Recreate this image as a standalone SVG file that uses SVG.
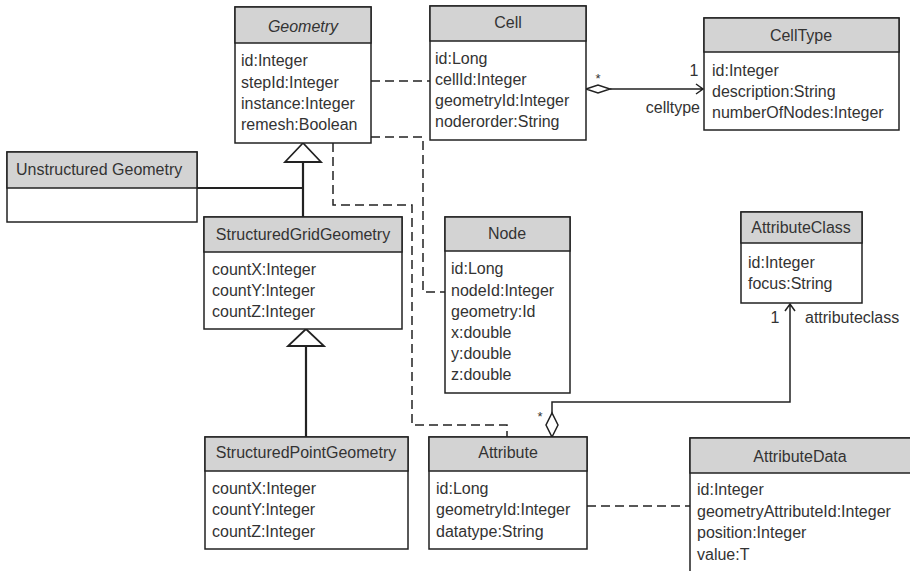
<svg xmlns="http://www.w3.org/2000/svg" width="910" height="571" viewBox="0 0 910 571">
<style>
.box{fill:#fff;stroke:#222;stroke-width:1.5}
.hdr{fill:#d3d3d3;stroke:#222;stroke-width:1.5}
text{font-family:"Liberation Sans",Arial,sans-serif;font-size:16px;fill:#333}
.t{text-anchor:middle}
.ln{fill:none;stroke:#222;stroke-width:1.5}
.dash{fill:none;stroke:#222;stroke-width:1.5;stroke-dasharray:9 5}
.gen{fill:none;stroke:#222;stroke-width:2.2}
.tri{fill:#fff;stroke:#222;stroke-width:1.8}
</style>
<rect width="910" height="571" fill="#fff"/>
<g id="connectors">
<path class="dash" d="M371,81 H430"/>
<path class="dash" d="M371,137 H423 V292 H445"/>
<path class="dash" d="M333,143 V205 H412 V425 H507 V437"/>
<path class="dash" d="M587,506 H690"/>
<path class="gen" d="M303,162 V217 M197,188 H303"/>
<polygon class="tri" points="303,143 285,162 321,162"/>
<path class="gen" d="M306,346 V437"/>
<polygon class="tri" points="306,329 288,346 324,346"/>
<path class="ln" d="M610,89 H703 M696,84 L703,89 L696,94"/>
<polygon class="ln" points="586,89 598,85 610,89 598,93"/>
<path class="ln" d="M552,413 V402 H790 V304 M785,311 L790,304 L795,311"/>
<polygon class="ln" points="552,437 558,425 552,413 546,425"/>
<text x="598" y="83" class="t" style="font-size:13px">*</text>
<text x="694" y="76" class="t">1</text>
<text x="700" y="113" text-anchor="end">celltype</text>
<text x="775" y="323" class="t">1</text>
<text x="805" y="323">attributeclass</text>
<text x="540" y="421" class="t" style="font-size:13px">*</text>
</g>
<g id="Geometry">
<rect class="box" x="235" y="7" width="136" height="136"/>
<rect class="hdr" x="235" y="7" width="136" height="36"/>
<text x="303" y="32" class="t" font-style="italic">Geometry</text>
<text x="241" y="66">id:Integer</text>
<text x="241" y="88">stepId:Integer</text>
<text x="241" y="109">instance:Integer</text>
<text x="241" y="130">remesh:Boolean</text>
</g>
<g id="Cell">
<rect class="box" x="430" y="6" width="156" height="134"/>
<rect class="hdr" x="430" y="6" width="156" height="35"/>
<text x="508" y="28" class="t">Cell</text>
<text x="435" y="64">id:Long</text>
<text x="435" y="85">cellId:Integer</text>
<text x="435" y="106">geometryId:Integer</text>
<text x="435" y="127">noderorder:String</text>
</g>
<g id="CellType">
<rect class="box" x="704" y="18" width="195" height="112"/>
<rect class="hdr" x="704" y="18" width="195" height="34"/>
<text x="801" y="41" class="t">CellType</text>
<text x="712" y="76">id:Integer</text>
<text x="712" y="97">description:String</text>
<text x="712" y="118">numberOfNodes:Integer</text>
</g>
<g id="UnstructuredGeometry">
<rect class="box" x="7" y="152" width="190" height="70"/>
<rect class="hdr" x="7" y="152" width="190" height="36"/>
<text x="16" y="175">Unstructured Geometry</text>
</g>
<g id="StructuredGridGeometry">
<rect class="box" x="204" y="217" width="198" height="112"/>
<rect class="hdr" x="204" y="217" width="198" height="35"/>
<text x="303" y="240" class="t">StructuredGridGeometry</text>
<text x="212" y="275">countX:Integer</text>
<text x="212" y="296">countY:Integer</text>
<text x="212" y="317">countZ:Integer</text>
</g>
<g id="Node">
<rect class="box" x="445" y="217" width="125" height="176"/>
<rect class="hdr" x="445" y="217" width="125" height="34"/>
<text x="507" y="239" class="t">Node</text>
<text x="451" y="274">id:Long</text>
<text x="451" y="296">nodeId:Integer</text>
<text x="451" y="317">geometry:Id</text>
<text x="451" y="338">x:double</text>
<text x="451" y="359">y:double</text>
<text x="451" y="380">z:double</text>
</g>
<g id="AttributeClass">
<rect class="box" x="741" y="212" width="121" height="91"/>
<rect class="hdr" x="741" y="212" width="121" height="31"/>
<text x="801" y="233" class="t">AttributeClass</text>
<text x="748" y="268">id:Integer</text>
<text x="748" y="289">focus:String</text>
</g>
<g id="StructuredPointGeometry">
<rect class="box" x="205" y="437" width="203" height="112"/>
<rect class="hdr" x="205" y="437" width="203" height="34"/>
<text x="306" y="458" class="t">StructuredPointGeometry</text>
<text x="212" y="494">countX:Integer</text>
<text x="212" y="515">countY:Integer</text>
<text x="212" y="537">countZ:Integer</text>
</g>
<g id="Attribute">
<rect class="box" x="429" y="437" width="158" height="112"/>
<rect class="hdr" x="429" y="437" width="158" height="34"/>
<text x="508" y="458" class="t">Attribute</text>
<text x="436" y="494">id:Long</text>
<text x="436" y="515">geometryId:Integer</text>
<text x="436" y="537">datatype:String</text>
</g>
<g id="AttributeData">
<rect class="box" x="690" y="438" width="225" height="140"/>
<rect class="hdr" x="690" y="438" width="225" height="35"/>
<text x="800" y="462" class="t">AttributeData</text>
<text x="697" y="495">id:Integer</text>
<text x="697" y="517">geometryAttributeId:Integer</text>
<text x="697" y="538">position:Integer</text>
<text x="697" y="560">value:T</text>
</g>
</svg>
